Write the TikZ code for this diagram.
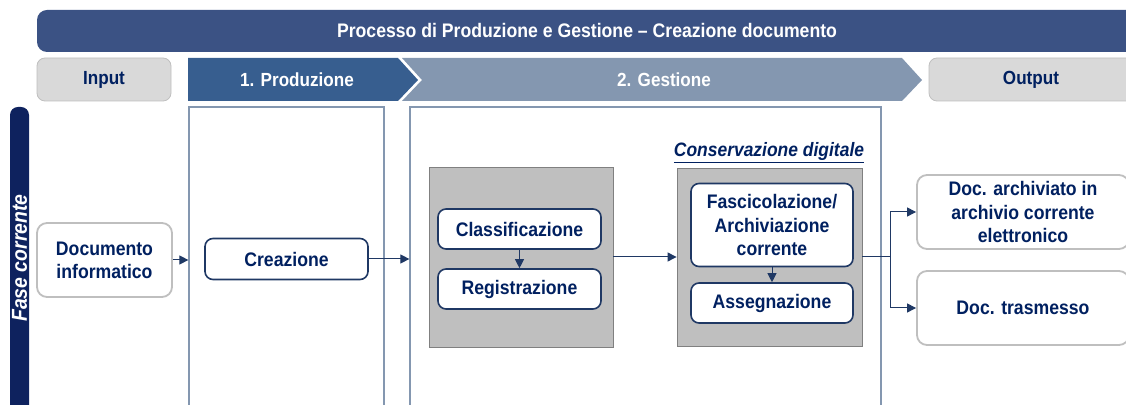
\documentclass[tikz,border=0pt]{standalone}
\usepackage{fontspec}
\setmainfont{Liberation Sans}[FakeStretch=0.9]
\usetikzlibrary{arrows.meta}

\definecolor{procnavy}{RGB}{0,32,96}
\definecolor{proctitle}{RGB}{59,82,132}
\definecolor{procprod}{RGB}{55,94,143}
\definecolor{procgest}{RGB}{132,151,176}
\definecolor{proclight}{RGB}{217,217,217}
\definecolor{procgray}{RGB}{191,191,191}
\definecolor{procdark}{RGB}{128,128,128}
\definecolor{procline}{RGB}{31,56,100}
\definecolor{procbar}{RGB}{14,34,94}

\newcommand\proctextstyle{\fontsize{9.8}{11.6}\selectfont\bfseries}
\newcommand\procheadstyle{\fontsize{9.5}{11.5}\selectfont\bfseries}
\newcommand\proctitlestyle{\fontsize{9.8}{11.5}\selectfont\bfseries}
\newcommand\proclabelstyle{\fontsize{9.7}{11}\selectfont\bfseries\itshape}
\newcommand\procphasestyle{\fontsize{10.8}{12}\selectfont\bfseries\itshape}

\tikzset{
  stepbox/.style={draw=procline, line width=.8pt, rounded corners=4pt, fill=white,
    text=procnavy, align=center, font=\proctextstyle, inner sep=1pt},
  endbox/.style={stepbox, draw=procgray, line width=.9pt, rounded corners=5pt},
  lane/.style={draw=procgest, line width=.6pt, inner sep=0pt},
  group/.style={draw=procdark, line width=.4pt, fill=procgray, inner sep=0pt},
  headtext/.style={font=\procheadstyle, text=procnavy, inner sep=0pt},
  flow/.style={draw=procline, line width=.5pt, -{Triangle[length=4.5pt, width=4.5pt]}},
}

\begin{document}
\begin{tikzpicture}[x=.5pt, y=-.5pt]
  \clip (0, 0) rectangle (1126, 405) ;
  % title and header row
  \fill[proctitle, rounded corners=5pt] (37, 10) rectangle (1140, 52) ;
  \node[headtext, text=white, font=\proctitlestyle] (title) at (587, 31) {Processo di Produzione e Gestione -- Creazione documento} ;
  \draw[fill=proclight, draw=procgray, rounded corners=4pt] (37, 58) rectangle (171, 101) ;
  \node[headtext] (hin) at (104, 80) {Input} ;
  \fill[procprod] (188, 58) -- (398, 58) -- (418, 80) -- (398, 101) -- (188, 101) -- cycle ;
  \node[headtext, text=white] (hprod) at (297, 80) {1. Produzione} ;
  \fill[procgest] (402, 58) -- (902, 58) -- (922, 80) -- (902, 101) -- (402, 101) -- (422, 80) -- cycle ;
  \node[headtext, text=white] (hgest) at (664, 80) {2. Gestione} ;
  \draw[fill=proclight, draw=procgray, rounded corners=4pt] (929, 58) rectangle (1140, 101) ;
  \node[headtext] (hout) at (1031, 80) {Output} ;
  % phase bar
  \fill[procbar, rounded corners=4pt] (10, 107) rectangle (29, 430) ;
  \node[rotate=90, text=white, font=\procphasestyle, inner sep=0pt] (fase) at (19.5, 258) {Fase corrente} ;
  % lanes and groups
  \node[lane, minimum width=97.5pt, minimum height=160pt] (prod) at (286.5, 267) {} ;
  \node[lane, minimum width=235.5pt, minimum height=160pt] (gest) at (645.5, 267) {} ;
  \node[group, minimum width=92pt, minimum height=90pt] (grp1) at (521, 257) {} ;
  \node[group, minimum width=92.5pt, minimum height=89pt] (grp2) at (769.5, 257) {} ;
  \node[headtext, font=\proclabelstyle] (cons) at (769, 153) {\underline{Conservazione digitale}} ;
  % steps
  \node[endbox, minimum width=67.5pt, minimum height=37pt] (doc) at (104.5, 260) {Documento\\informatico} ;
  \node[stepbox, minimum width=81.5pt, minimum height=20.5pt] (crea) at (286.5, 259) {Creazione} ;
  \node[stepbox, minimum width=81.5pt, minimum height=20pt] (clas) at (519.5, 229) {Classificazione} ;
  \node[stepbox, minimum width=81.5pt, minimum height=20pt] (reg) at (519.5, 289) {Registrazione} ;
  \node[stepbox, minimum width=81pt, minimum height=41.5pt] (fasc) at (772, 225) {Fascicolazione/\\Archiviazione\\corrente} ;
  \node[stepbox, minimum width=81pt, minimum height=20pt] (asse) at (772, 303) {Assegnazione} ;
  \node[endbox, minimum width=106pt, minimum height=37pt] (out1) at (1023, 212) {Doc. archiviato in\\archivio corrente\\elettronico} ;
  \node[endbox, minimum width=106pt, minimum height=37pt] (out2) at (1023, 308) {Doc. trasmesso} ;
  % connectors
  \coordinate (split) at (890, 257) ;
  \draw[flow] (doc) -- (doc -| prod.west) ;
  \draw[flow] (crea) -- (crea -| gest.west) ;
  \draw[flow] (clas) -- (reg) ;
  \draw[flow] (grp1) -- (grp2) ;
  \draw[flow] (fasc) -- (asse) ;
  \draw[procline, line width=.5pt] (grp2) -- (split) ;
  \draw[flow] (split) |- (out1) ;
  \draw[flow] (split) |- (out2) ;
\end{tikzpicture}
\end{document}
